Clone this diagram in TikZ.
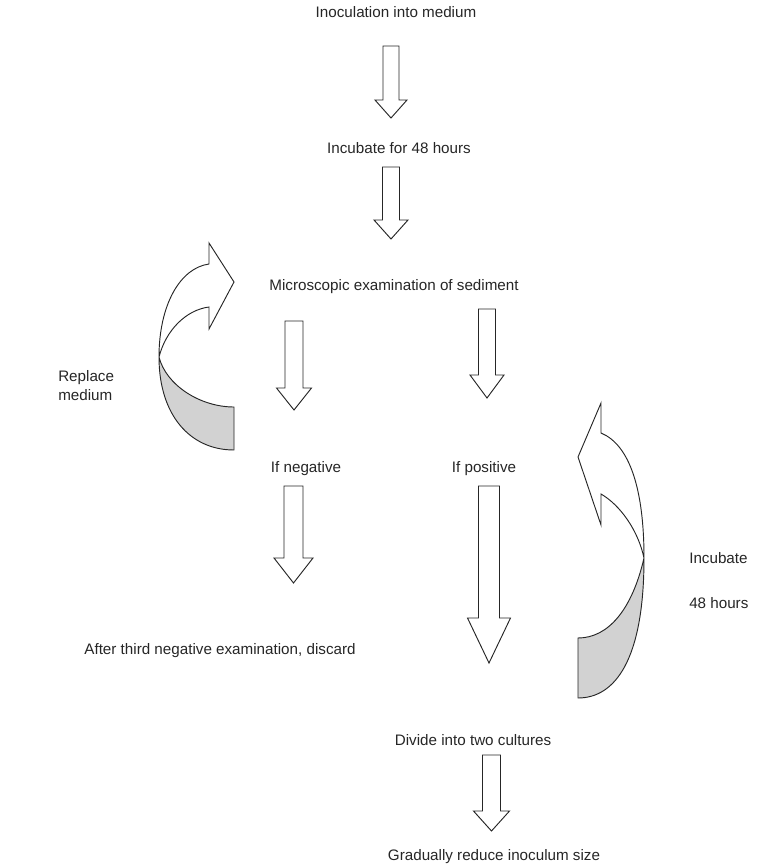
\documentclass[tikz,border=0pt]{standalone}
\usepackage{fontspec}
\setmainfont{Liberation Sans}
\usetikzlibrary{calc}

% block arrow: top, tip, shaft half width, head half width, head length
\newcommand{\blockarrow}[5]{%
\draw[blockline] ($(#2)+(-#4,-#5)$) -- ($(#2)+(-#3,-#5)$) -- ($(#1)+(-#3,0)$)
  -- ($(#1)+(#3,0)$) -- ($(#2)+(#3,-#5)$) -- ($(#2)+(#4,-#5)$) -- (#2) -- cycle;}

\tikzset{
  lbl/.style={font=\fontsize{11.4}{14.25}\selectfont, text=black!85, inner sep=0pt, anchor=base},
  blockline/.style={line width=0.7pt, black!85, fill=white, line join=miter},
  curl/.style={line width=0.7pt, black!85, line join=miter},
  backfill/.style={fill=gray!35}
}

\begin{document}
\begin{tikzpicture}[x=0.75pt,y=-0.75pt]
\useasboundingbox (0,0) rectangle (758,866);
% labels
\node [lbl] (inoc) at (396,17.5) {Inoculation into medium};
\node [lbl] (incub) at (399,153.5) {Incubate for 48 hours};
\node [lbl] (micro) at (394,290.5) {Microscopic examination of sediment};
\node [lbl] (neg) at (306,472.5) {If negative};
\node [lbl] (pos) at (484,472.5) {If positive};
\node [lbl] (discard) at (220,654.5) {After third negative examination, discard};
\node [lbl] (divide) at (473,745.5) {Divide into two cultures};
\node [lbl] (reduce) at (494,860.5) {Gradually reduce inoculum size};
\node [lbl, anchor=base west, align=left] (replace) at (58,400.5) {Replace\\medium};
\node [lbl, anchor=base west] (again) at (689,563.5) {Incubate};
\node [lbl, anchor=base west] (hrs) at (689,608.5) {48 hours};

% straight arrows
\coordinate (a1s) at (391,46);    \coordinate (a1e) at (391,118);
\coordinate (a2s) at (391,167);   \coordinate (a2e) at (391,239);
\coordinate (a3s) at (294,321);   \coordinate (a3e) at (294,410);
\coordinate (a4s) at (487,309);   \coordinate (a4e) at (487,398);
\coordinate (a5s) at (293.5,486); \coordinate (a5e) at (293.5,583);
\coordinate (a6s) at (489,486);   \coordinate (a6e) at (489,663);
\coordinate (a7s) at (491.5,755); \coordinate (a7e) at (491.5,831);
\blockarrow{a1s}{a1e}{8}{16}{18}
\blockarrow{a2s}{a2e}{8.5}{17}{19}
\blockarrow{a3s}{a3e}{9}{17.5}{22}
\blockarrow{a4s}{a4e}{8.5}{17}{23}
\blockarrow{a5s}{a5e}{9.5}{19.5}{25}
\blockarrow{a6s}{a6e}{10.5}{21.5}{45}
\blockarrow{a7s}{a7e}{9}{18}{20}

% curled arrow, left
\fill[backfill] (159,357) .. controls (166,385) and (200,407) .. (234,407)
  -- (234,450) .. controls (190,450) and (159,415) .. (159,357) -- cycle;
\draw[curl] (159,357) .. controls (166,385) and (200,407) .. (234,407)
  -- (234,450) .. controls (190,450) and (159,415) .. (159,357)
  .. controls (159,305) and (180,268) .. (209,264) -- (209,243) -- (234,282)
  -- (209,329) -- (209,307) .. controls (186,310) and (166,330) .. (159,357);

% curled arrow, right
\fill[backfill] (644,558) .. controls (632,610) and (608,638) .. (578,638)
  -- (578,698) .. controls (615,698) and (644,660) .. (644,558) -- cycle;
\draw[curl] (644,558) .. controls (632,610) and (608,638) .. (578,638)
  -- (578,698) .. controls (615,698) and (644,660) .. (644,558)
  .. controls (644,490) and (630,445) .. (601,433) -- (601,403) -- (578,457)
  -- (601,525) -- (601,494) .. controls (620,505) and (638,530) .. (644,558);
\end{tikzpicture}
\end{document}
